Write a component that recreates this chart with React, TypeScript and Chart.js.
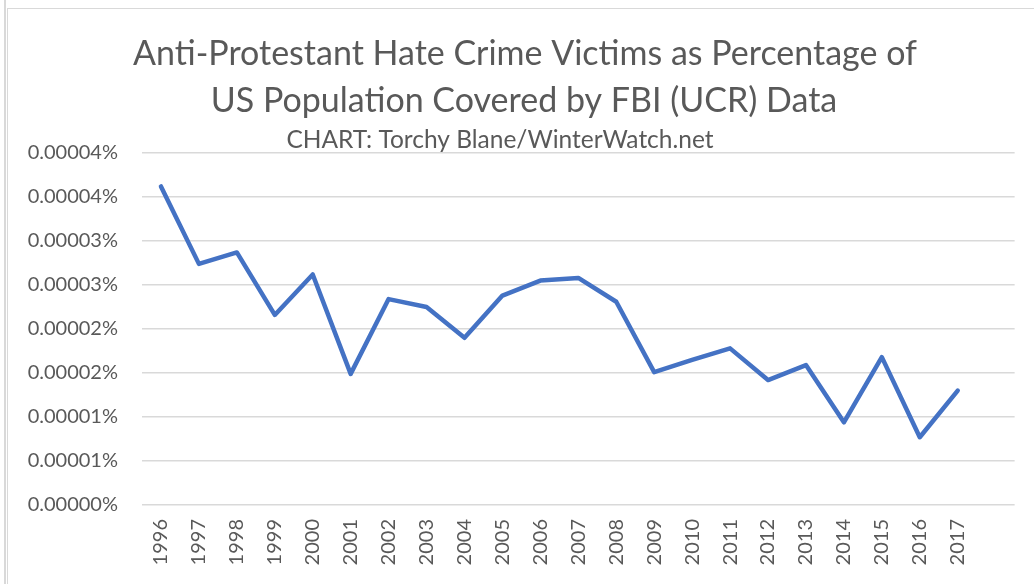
import React, { useEffect, useRef } from "react";
import { Chart, registerables } from "chart.js";

Chart.register(...registerables);

const titleLines = [
  "Anti-Protestant Hate Crime Victims as Percentage of",
  "US Population Covered by FBI (UCR) Data",
];
const subtitleText = "CHART: Torchy Blane/WinterWatch.net";

// 22 years plus the empty trailing category the original axis keeps
const years = [
  "1996", "1997", "1998", "1999", "2000", "2001", "2002", "2003", "2004", "2005", "2006",
  "2007", "2008", "2009", "2010", "2011", "2012", "2013", "2014", "2015", "2016", "2017", "",
];

// victims as percentage of covered population
const victimsPct = [
  0.0000362, 0.0000274, 0.0000287, 0.0000216, 0.0000262, 0.0000149, 0.0000234, 0.0000225,
  0.000019, 0.0000238, 0.0000255, 0.0000258, 0.0000231, 0.0000151, 0.0000165, 0.0000178,
  0.0000142, 0.0000159, 0.0000094, 0.0000168, 0.0000077, 0.000013, null,
];

const yTickValues = [0, 0.000005, 0.00001, 0.000015, 0.00002, 0.000025, 0.00003, 0.000035, 0.00004];
const yTickLabels = [
  "0.00000%", "0.00001%", "0.00001%", "0.00002%", "0.00002%",
  "0.00003%", "0.00003%", "0.00004%", "0.00004%",
];

const TEXT = "#595959";
const GRID = "#d9d9d9";
const LINE = "#4472C4";
const FONT = "Lato, 'Open Sans', sans-serif";

const titlePlugin = {
  id: "excelTitles",
  afterDraw(chart: any) {
    const ctx = chart.ctx;
    ctx.save();
    ctx.fillStyle = TEXT;
    ctx.textAlign = "center";
    ctx.textBaseline = "alphabetic";
    ctx.font = `34px ${FONT}`;
    ctx.fillText(titleLines[0], 525, 65);
    ctx.fillText(titleLines[1], 524, 112);
    ctx.font = `24.5px ${FONT}`;
    ctx.fillText(subtitleText, 500, 148);
    ctx.restore();
  },
};

export default function App() {
  const ref = useRef<HTMLCanvasElement>(null);

  useEffect(() => {
    if (!ref.current) return;
    const chart = new Chart(ref.current, {
      type: "line",
      data: {
        labels: years,
        datasets: [
          {
            data: victimsPct,
            borderColor: LINE,
            borderWidth: 4.5,
            pointRadius: 0,
            tension: 0,
            borderJoinStyle: "round",
            borderCapStyle: "round",
            fill: false,
          },
        ],
      },
      options: {
        responsive: false,
        animation: false,
        layout: { padding: { top: 153, right: 16, left: 0, bottom: 0 } },
        plugins: {
          legend: { display: false },
          title: { display: false },
          tooltip: { enabled: false },
        },
        scales: {
          x: {
            type: "category",
            offset: true,
            grid: { display: false, drawTicks: false },
            border: { display: false },
            ticks: {
              color: TEXT,
              font: { family: FONT, size: 20 },
              minRotation: 90,
              maxRotation: 90,
              autoSkip: false,
              padding: 14,
            },
            afterFit: (s: any) => {
              s.height = 79;
            },
          },
          y: {
            min: 0,
            max: 0.00004,
            grid: { color: GRID, lineWidth: 1.5, drawTicks: false },
            border: { display: false },
            ticks: {
              color: TEXT,
              font: { family: FONT, size: 20 },
              padding: 24,
              callback: (_v: any, i: number) => yTickLabels[i],
            },
            afterBuildTicks: (s: any) => {
              s.ticks = yTickValues.map((v) => ({ value: v }));
            },
            afterFit: (s: any) => {
              s.width = 142;
            },
          },
        },
      },
      plugins: [titlePlugin],
    });
    return () => chart.destroy();
  }, []);

  return (
    <div
      style={{
        position: "fixed",
        left: 0,
        top: 0,
        width: 1034,
        height: 584,
        background: "#ffffff",
        overflow: "hidden",
      }}
    >
      <div
        style={{ position: "absolute", left: 4, top: 0, width: 1.5, height: 584, background: GRID }}
      />
      <div
        style={{
          position: "absolute",
          left: 7,
          top: 8,
          right: -4,
          bottom: -4,
          borderTop: `1.5px solid ${GRID}`,
          borderLeft: `1.5px solid ${GRID}`,
        }}
      />
      <canvas
        ref={ref}
        width={1034}
        height={584}
        style={{ position: "absolute", left: 0, top: 0, width: 1034, height: 584 }}
      />
    </div>
  );
}
